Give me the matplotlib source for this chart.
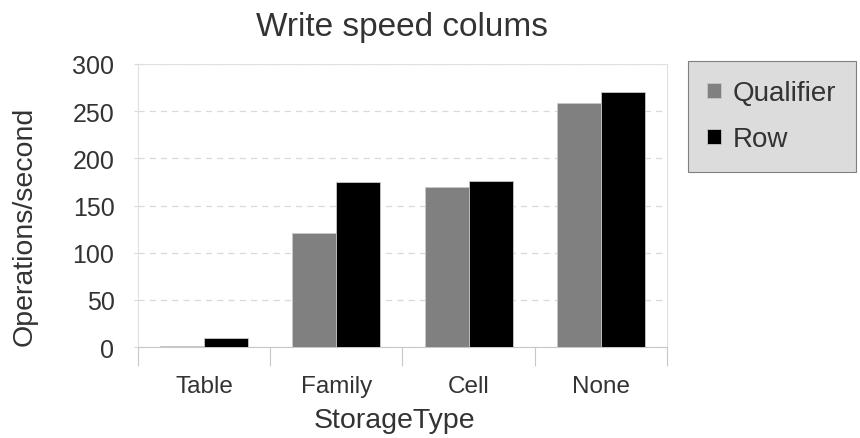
import numpy as np
import matplotlib.pyplot as plt

plt.rcParams['font.family'] = ['Liberation Sans', 'DejaVu Sans']

categories = ['Table', 'Family', 'Cell', 'None']
qualifier = [1.4, 121, 170, 259]
row = [10, 175, 176, 270]
series_names = ['Qualifier', 'Row']
yticks = [0, 50, 100, 150, 200, 250, 300]

txt = '#333333'
fig = plt.figure(figsize=(8.6, 4.39), dpi=100)
ax = fig.add_axes([0.1605, 0.207, 0.615, 0.645])

x = np.arange(len(categories))
w = 1 / 3
ax.bar(x - w / 2, qualifier, w, color='#808080', edgecolor='#c8c8c8', linewidth=0.6, label=series_names[0], zorder=3)
ax.bar(x + w / 2, row, w, color='#000000', edgecolor='#c8c8c8', linewidth=0.6, label=series_names[1], zorder=3)

ax.set_xlim(-0.5, len(categories) - 0.5)
ax.set_ylim(0, 300)
ax.set_yticks(yticks)
ax.yaxis.grid(True, linestyle=(0, (5, 4)), color='#d9d9d9', linewidth=0.9, zorder=0)

# category boundaries as ticks, labels in the middle
ax.set_xticks(np.arange(len(categories) + 1) - 0.5)
ax.set_xticklabels([])
ax.set_xticks(x, minor=True)
ax.set_xticklabels(categories, minor=True)
ax.tick_params(axis='x', which='major', length=14, color='#c8c8c8', width=0.8)
ax.tick_params(axis='x', which='minor', length=0, pad=20, labelsize=17.5, labelcolor=txt)
ax.tick_params(axis='y', length=3, color='#d9d9d9', labelsize=18, labelcolor=txt, pad=14)

for s in ax.spines.values():
    s.set_color('#e0e0e0')
    s.set_linewidth(0.8)
ax.spines['bottom'].set_color('#c8c8c8')

ax.set_title('Write speed colums', fontsize=24, color=txt, pad=21)
ax.set_ylabel('Operations/second', fontsize=20.5, color=txt)
ax.yaxis.set_label_coords(-0.19, 0.43)
ax.set_xlabel('StorageType', fontsize=20.5, color=txt)
ax.xaxis.set_label_coords(0.485, -0.21)

leg = fig.legend(loc='upper left', bbox_to_anchor=(0.8, 0.859), fontsize=20,
                 fancybox=False, framealpha=1, facecolor='#dcdcdc', edgecolor='#808080',
                 handlelength=0.47, handleheight=0.47, handletextpad=0.45,
                 borderpad=0.7, labelspacing=0.72, borderaxespad=0)
for t in leg.get_texts():
    t.set_color(txt)
leg.get_frame().set_linewidth(0.8)

fig.savefig('out.png', dpi=100)
